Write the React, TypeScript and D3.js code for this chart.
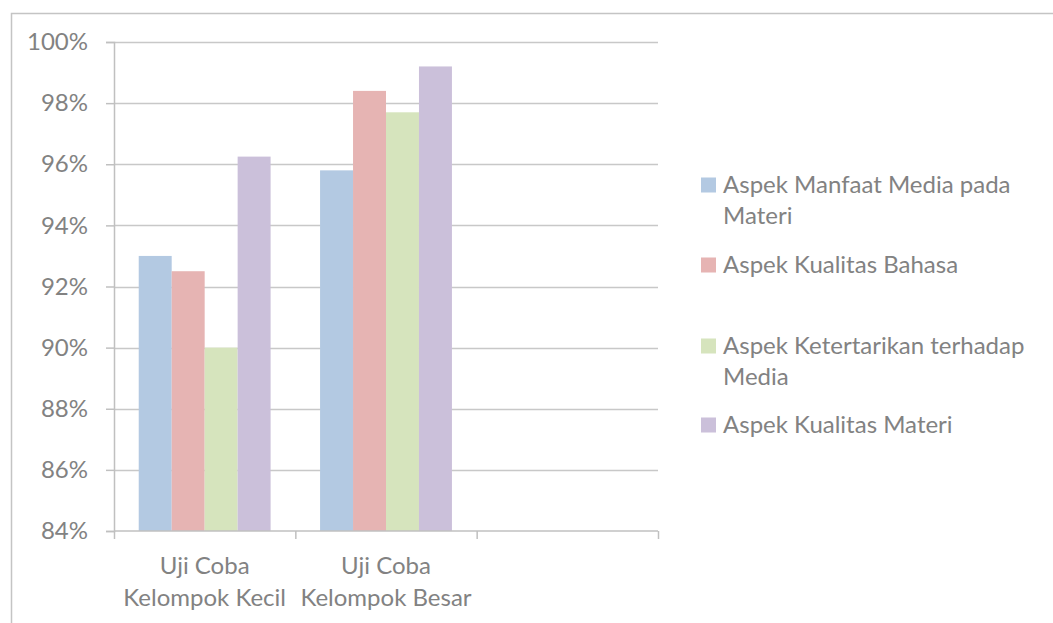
import React, { useEffect, useRef } from "react";
import * as d3 from "d3";

const categories = ["Uji Coba\nKelompok Kecil", "Uji Coba\nKelompok Besar", ""];
const seriesNames = [
  "Aspek Manfaat Media pada\nMateri",
  "Aspek Kualitas Bahasa",
  "Aspek Ketertarikan terhadap\nMedia",
  "Aspek Kualitas Materi",
];
const manfaatMedia = [93.0, 95.8];
const kualitasBahasa = [92.5, 98.4];
const ketertarikan = [90.0, 97.7];
const kualitasMateri = [96.25, 99.2];
const yTicks = [84, 86, 88, 90, 92, 94, 96, 98, 100];
const colors = ["#b3c9e2", "#e6b4b3", "#d6e4bd", "#cbc0da"];

const W = 1053;
const H = 623;
const FONT = "Lato, 'Open Sans', sans-serif";
const TEXT = "#828282";
const FS = "24px";

const App = () => {
  const ref = useRef<SVGSVGElement>(null);

  useEffect(() => {
    const svg = d3.select(ref.current);
    svg.selectAll("*").remove();

    const series = [manfaatMedia, kualitasBahasa, ketertarikan, kualitasMateri];
    const plot = { left: 114, right: 658, top: 42, bottom: 531 };

    // outer chart border (runs off the right and bottom of the picture)
    svg.append("rect")
      .attr("x", 11.5).attr("y", 13.5)
      .attr("width", W + 20).attr("height", H + 20)
      .attr("fill", "white")
      .attr("stroke", "#c4c4c4")
      .attr("stroke-width", 1.5);

    const x = d3.scaleBand<number>()
      .domain(d3.range(categories.length))
      .range([plot.left, plot.right])
      .paddingInner(0)
      .paddingOuter(0);

    // Excel gap width ~150% => bars take 4/(4+1.5) of the band
    const inner = d3.scaleBand<number>()
      .domain(d3.range(series.length))
      .range([0, x.bandwidth()])
      .paddingOuter(0.75)
      .paddingInner(0);

    const y = d3.scaleLinear()
      .domain([84, 100])
      .range([plot.bottom, plot.top]);

    // gridlines
    svg.append("g")
      .selectAll("line")
      .data(yTicks.slice(1))
      .enter().append("line")
      .attr("x1", plot.left).attr("x2", plot.right)
      .attr("y1", d => Math.round(y(d)) + 0.5)
      .attr("y2", d => Math.round(y(d)) + 0.5)
      .attr("stroke", "#c8c8c8")
      .attr("stroke-width", 1.5);

    // bars
    series.forEach((vals, si) => {
      svg.append("g")
        .attr("fill", colors[si])
        .selectAll("rect")
        .data(vals)
        .enter().append("rect")
        .attr("x", (_, i) => x(i)! + inner(si)!)
        .attr("y", d => y(d))
        .attr("width", inner.bandwidth())
        .attr("height", d => y(84) - y(d));
    });

    // y axis
    const yAxis = svg.append("g")
      .attr("transform", `translate(${plot.left},0)`)
      .call(d3.axisLeft(y).tickValues(yTicks).tickSize(8).tickPadding(18)
        .tickFormat(d => `${d}%`));
    yAxis.select(".domain").attr("stroke", "#c0c0c0").attr("stroke-width", 1.5);
    yAxis.selectAll(".tick line").attr("stroke", "#c0c0c0").attr("stroke-width", 1.5);
    yAxis.selectAll("text")
      .attr("fill", TEXT)
      .style("font-family", FONT)
      .style("font-size", FS);

    // x axis
    const xLin = d3.scaleLinear().domain([0, categories.length]).range([plot.left, plot.right]);
    const xAxis = svg.append("g")
      .attr("transform", `translate(0,${plot.bottom})`)
      .call(d3.axisBottom(xLin).ticks(3).tickSize(8).tickFormat(() => ""));
    xAxis.select(".domain").attr("stroke", "#c0c0c0").attr("stroke-width", 1.5)
      .attr("d", `M${plot.left},0H${plot.right}`);
    xAxis.selectAll(".tick line").attr("stroke", "#c0c0c0").attr("stroke-width", 1.5);

    const catLabels = svg.append("g")
      .selectAll("text")
      .data(categories)
      .enter().append("text")
      .attr("x", (_, i) => x(i)! + x.bandwidth() / 2)
      .attr("y", 566)
      .attr("text-anchor", "middle")
      .attr("fill", TEXT)
      .style("font-family", FONT)
      .style("font-size", FS);
    catLabels.each(function (d) {
      d.split("\n").forEach((line, li) => {
        d3.select(this).append("tspan")
          .attr("x", d3.select(this).attr("x"))
          .attr("dy", li === 0 ? "0.35em" : "32")
          .text(line);
      });
    });

    // legend
    const legendY = [185, 265, 346, 425];
    const legend = svg.append("g");
    seriesNames.forEach((name, i) => {
      legend.append("rect")
        .attr("x", 701).attr("y", legendY[i] - 7.5)
        .attr("width", 15).attr("height", 15)
        .attr("fill", colors[i]);
      const t = legend.append("text")
        .attr("x", 723).attr("y", legendY[i])
        .attr("fill", TEXT)
        .style("font-family", FONT)
        .style("font-size", FS);
      name.split("\n").forEach((line, li) => {
        t.append("tspan")
          .attr("x", 723)
          .attr("dy", li === 0 ? "0.35em" : "31")
          .text(line);
      });
    });
  }, []);

  return (
    <svg
      ref={ref}
      width={W}
      height={H}
      style={{ position: "absolute", left: 0, top: 0, display: "block", background: "white" }}
    ></svg>
  );
};

export default App;
